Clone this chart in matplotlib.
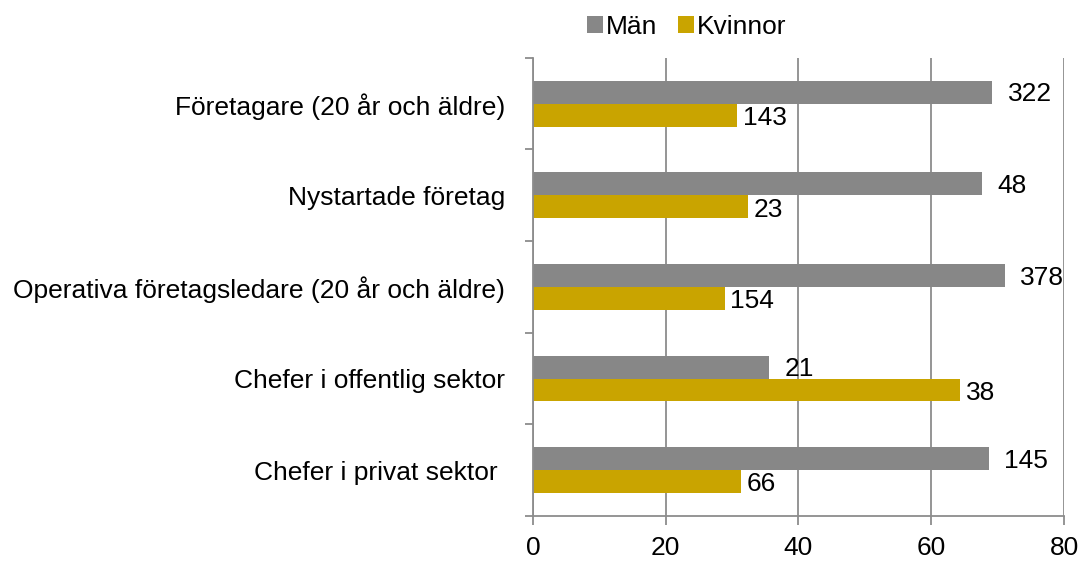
import matplotlib.pyplot as plt
import numpy as np

categories = ['Företagare (20 år och äldre)', 'Nystartade företag',
              'Operativa företagsledare (20 år och äldre)',
              'Chefer i offentlig sektor', 'Chefer i privat sektor ']
man_pct = [69.2, 67.6, 71.1, 35.6, 68.7]
kvinnor_pct = [30.8, 32.4, 28.9, 64.4, 31.3]
man_count = [322, 48, 378, 21, 145]
kvinnor_count = [143, 23, 154, 38, 66]
xticks = [0, 20, 40, 60, 80]

c_man = '#878787'
c_kv = '#C9A400'
c_axis = '#8c8c8c'
fs = 19
plt.rcParams['font.family'] = ['Liberation Sans', 'DejaVu Sans']

fig = plt.figure(figsize=(10.83, 5.62), dpi=100)
ax = fig.add_axes([0.492, 0.082, 0.4905, 0.815])

y = np.arange(len(categories))
h = 0.25
b1 = ax.barh(y - h/2, man_pct, height=h, color=c_man, label='Män', zorder=2)
b2 = ax.barh(y + h/2, kvinnor_pct, height=h, color=c_kv, label='Kvinnor', zorder=2)

for t in ax.bar_label(b1, labels=[str(v) for v in man_count], fontsize=fs):
    t.xyann = (11, -1.5)
for t in ax.bar_label(b2, labels=[str(v) for v in kvinnor_count], fontsize=fs):
    t.xyann = (4, -2)

ax.set_xlim(0, 80)
ax.set_ylim(len(categories) - 0.5, -0.5)
ax.set_xticks(xticks)
ax.set_xticklabels([str(t) for t in xticks], fontsize=fs)
ax.set_yticks(y)
ax.set_yticklabels(categories, fontsize=fs)
ax.tick_params(axis='y', length=0, pad=20)
ax.tick_params(axis='x', length=6.5, color=c_axis, width=1.3, pad=8)
ax.set_yticks(np.arange(len(categories) + 1) - 0.5, minor=True)
ax.tick_params(axis='y', which='minor', length=6, color=c_axis, width=1.3)

ax.grid(axis='x', color=c_axis, lw=1.3, zorder=0)
for s in ['top', 'right']:
    ax.spines[s].set_visible(False)
for s in ['left', 'bottom']:
    ax.spines[s].set_color(c_axis)
    ax.spines[s].set_linewidth(1.3)

ax.legend(loc='lower center', bbox_to_anchor=(0.29, 0.99), ncol=2, frameon=False,
          fontsize=fs, handlelength=0.6, handleheight=0.6, handletextpad=0.1,
          columnspacing=0.8)

plt.savefig('out.png', dpi=100)
